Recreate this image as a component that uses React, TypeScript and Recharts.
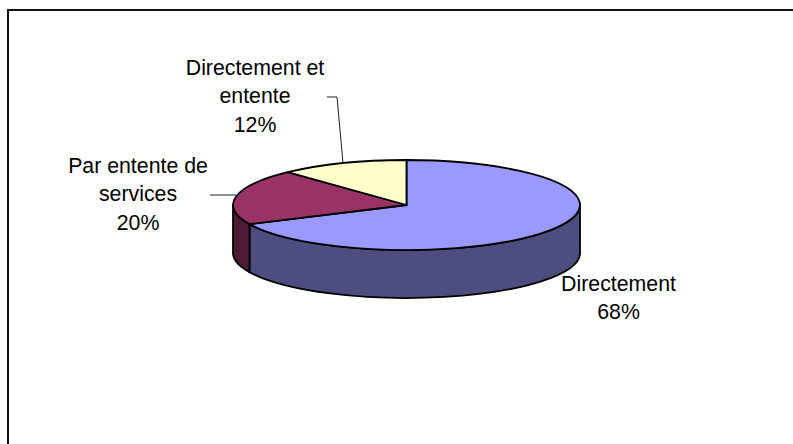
import { Pie, PieChart } from "recharts";

const categories = ["Directement", "Par entente de services", "Directement et entente"];
const shares = [68, 20, 12];
const colors = ["#9999FF", "#993366", "#FFFFCC"];

// how the labels break over lines, same order as categories
const labelLines = [["Directement"], ["Par entente de", "services"], ["Directement et", "entente"]];

const WIDTH = 793;
const HEIGHT = 444;
const CX = 406.5;
const CY = 205;
const RX = 173.5;
const TILT = 45 / 173.5; // ry / rx of the top face
const DEPTH = 48;
const FONT_SIZE = 21.3;
const LINE_HEIGHT = 28.3;

// label block position (centre x, first baseline y) and leader line per slice
const labelLayout = [
  { x: 618.5, y: 291, leader: "" },
  { x: 138, y: 173, leader: "M210 195H236" },
  { x: 255, y: 75, leader: "M327 97H337L343 163" },
];

const data = categories.map((name, i) => ({ name, value: shares[i], fill: colors[i] }));

// the side wall is the body colour at half brightness
function shade(hex: string) {
  const n = parseInt(hex.slice(1), 16);
  const half = (v: number) => Math.round(v / 2);
  return `rgb(${half((n >> 16) & 255)},${half((n >> 8) & 255)},${half(n & 255)})`;
}

function PieSlice3D(props: any) {
  const { cx, cy, outerRadius, startAngle, endAngle, fill } = props;
  const ry = outerRadius * TILT;
  const pt = (a: number, dy = 0) => {
    const rad = (a * Math.PI) / 180;
    return `${cx + outerRadius * Math.cos(rad)} ${cy - ry * Math.sin(rad) + dy}`;
  };
  const large = startAngle - endAngle > 180 ? 1 : 0;
  const top = `M${cx} ${cy}L${pt(startAngle)}A${outerRadius} ${ry} 0 ${large} 1 ${pt(endAngle)}Z`;

  // only the part of the rim facing the viewer (angles 0 to -180) has a wall
  const from = Math.min(startAngle, 0);
  const to = Math.max(endAngle, -180);
  const wall =
    from > to
      ? `M${pt(from)}A${outerRadius} ${ry} 0 0 1 ${pt(to)}L${pt(to, DEPTH)}A${outerRadius} ${ry} 0 0 0 ${pt(from, DEPTH)}Z`
      : null;

  return (
    <g>
      {wall && <path d={wall} fill={shade(fill)} stroke="#000" strokeWidth={1.8} strokeLinejoin="round" />}
      <path d={top} fill={fill} stroke="#000" strokeWidth={1.8} strokeLinejoin="round" />
    </g>
  );
}

function SliceLabel(props: any) {
  const { index, percent } = props;
  const layout = labelLayout[index];
  const lines = [...labelLines[index], `${Math.round(percent * 100)}%`];
  return (
    <g>
      {layout.leader && <path d={layout.leader} fill="none" stroke="#222" strokeWidth={1} />}
      <text
        x={layout.x}
        y={layout.y}
        textAnchor="middle"
        fill="#000"
        fontFamily="Liberation Sans, Arial, sans-serif"
        fontSize={FONT_SIZE}
      >
        {lines.map((line, i) => (
          <tspan key={line} x={layout.x} y={layout.y + i * LINE_HEIGHT}>
            {line}
          </tspan>
        ))}
      </text>
    </g>
  );
}

export default function App() {
  return (
    <div style={{ position: "fixed", left: 0, top: 0, width: WIDTH, height: HEIGHT, overflow: "hidden", background: "#fff" }}>
      <div style={{ position: "absolute", left: 7, top: 9, right: 0, height: 2, background: "#111" }} />
      <div style={{ position: "absolute", left: 7, top: 9, bottom: 0, width: 2, background: "#111" }} />
      <PieChart width={WIDTH} height={HEIGHT} margin={{ top: 0, right: 0, bottom: 0, left: 0 }}>
        <Pie
          data={data}
          dataKey="value"
          nameKey="name"
          cx={CX}
          cy={CY}
          innerRadius={0}
          outerRadius={RX}
          startAngle={90}
          endAngle={-270}
          shape={PieSlice3D}
          label={SliceLabel}
          labelLine={false}
          isAnimationActive={false}
        />
      </PieChart>
    </div>
  );
}
